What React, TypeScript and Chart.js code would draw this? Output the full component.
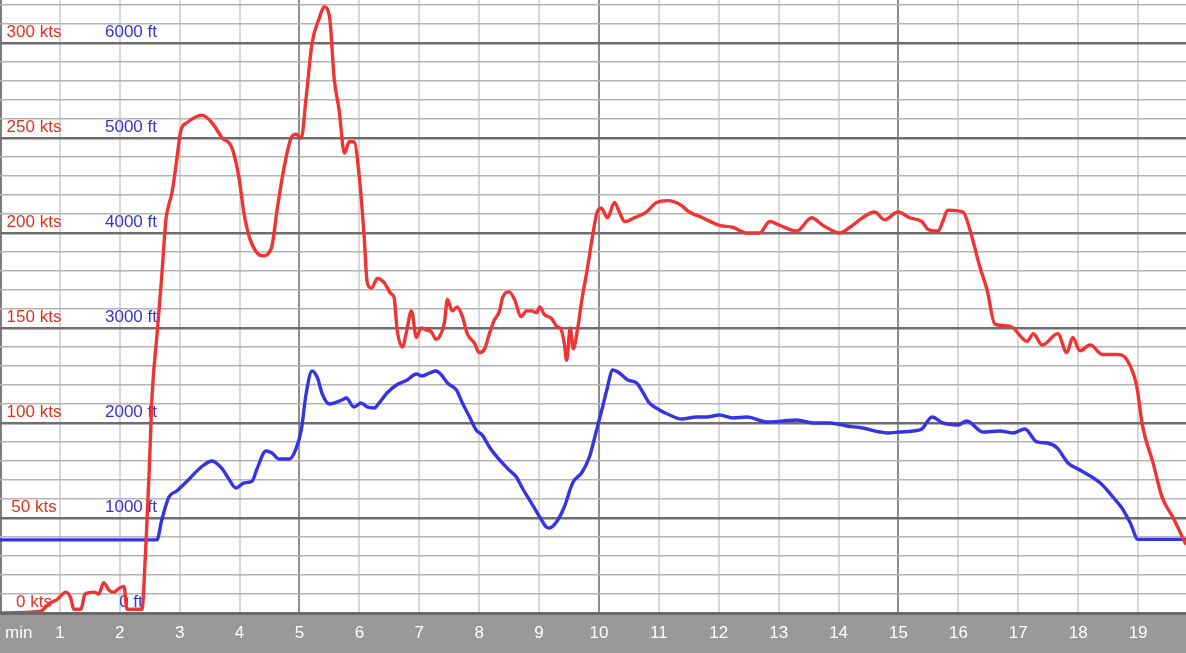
import React, { useEffect, useRef } from "react";
import { Chart, registerables } from "chart.js";

Chart.register(...registerables);

// Time (minutes) and airspeed (kts)
const speedTime = [
  0, 0.68, 0.82, 0.95, 1.1, 1.18, 1.23, 1.35, 1.42, 1.57, 1.65, 1.73, 1.82, 1.9, 1.99, 2.07, 2.12, 2.37,
  2.43, 2.49, 2.54, 2.62, 2.7, 2.77, 2.82, 2.87, 2.94, 3.02, 3.12, 3.37, 3.54, 3.71, 3.87, 3.99, 4.07,
  4.16, 4.28, 4.38, 4.53, 4.63, 4.74, 4.86, 4.94, 5.03, 5.11, 5.21, 5.33, 5.41, 5.5, 5.58, 5.66, 5.75,
  5.83, 5.91, 6.0, 6.08, 6.13, 6.2, 6.3, 6.41, 6.53, 6.58, 6.63, 6.72, 6.78, 6.87, 6.95, 7.03, 7.12,
  7.2, 7.28, 7.33, 7.42, 7.47, 7.55, 7.63, 7.72, 7.8, 7.92, 8.0, 8.09, 8.17, 8.25, 8.34, 8.39, 8.5,
  8.59, 8.7, 8.79, 8.87, 8.96, 9.01, 9.09, 9.21, 9.29, 9.37, 9.42, 9.46, 9.52, 9.57, 9.64, 9.72, 9.81,
  9.89, 9.97, 10.04, 10.14, 10.26, 10.34, 10.43, 10.59, 10.79, 10.96, 11.15, 11.35, 11.51, 11.73,
  12.01, 12.23, 12.47, 12.68, 12.85, 13.02, 13.3, 13.55, 13.74, 14.02, 14.19, 14.4, 14.6, 14.77,
  14.99, 15.19, 15.39, 15.49, 15.66, 15.74, 15.82, 16.08, 16.19, 16.36, 16.48, 16.61, 16.86, 17.15,
  17.25, 17.4, 17.66, 17.81, 17.91, 18.03, 18.2, 18.41, 18.65, 18.82, 18.98, 19.07, 19.25, 19.4,
  19.57, 19.8,
];
const speedKts = [
  0, 1, 5, 7, 11, 8, 2, 2, 10, 11, 10, 16, 12, 11, 13, 14, 2, 2,
  32, 74, 115, 146, 177, 207, 215, 221, 236, 254, 258, 262, 258, 250, 245, 229, 211,
  198, 190, 188, 192, 213, 234, 250, 252, 250, 271, 300, 313, 319, 314, 281, 265, 242,
  248, 248, 229, 198, 174, 171, 176, 174, 168, 166, 149, 140, 147, 159, 145, 150, 149,
  148, 144, 145, 153, 165, 159, 161, 156, 147, 142, 137, 139, 147, 154, 159, 166, 169,
  165, 156, 159, 159, 158, 161, 157, 155, 151, 149, 142, 133, 150, 139, 149, 166, 182,
  198, 211, 213, 208, 216, 211, 206, 208, 211, 216, 217, 215, 211, 208,
  204, 203, 200, 200, 206, 204, 201, 208, 204, 200, 203, 208, 211, 207,
  211, 208, 206, 202, 201, 206, 212, 211, 202, 182, 170, 152, 151, 143,
  147, 141, 147, 137, 145, 138, 141, 136, 136, 133, 119, 99, 79, 61,
  51, 36,
];

// Time (minutes) and altitude (ft)
const altTime = [
  0, 2.62, 2.7, 2.82, 2.95, 3.16, 3.36, 3.54, 3.71, 3.82, 3.94, 4.07, 4.21, 4.29, 4.44, 4.54, 4.66,
  4.83, 4.94, 5.03, 5.11, 5.21, 5.3, 5.38, 5.5, 5.71, 5.78, 5.91, 6.03, 6.13, 6.25, 6.33, 6.46, 6.62,
  6.8, 6.95, 7.05, 7.17, 7.28, 7.37, 7.47, 7.62, 7.72, 7.84, 7.95, 8.05, 8.17, 8.34, 8.5, 8.62, 8.72,
  8.87, 9.01, 9.12, 9.17, 9.29, 9.42, 9.56, 9.72, 9.84, 9.96, 10.06, 10.13, 10.23, 10.34, 10.48,
  10.63, 10.73, 10.84, 11.01, 11.18, 11.38, 11.63, 11.8, 12.01, 12.23, 12.47, 12.8, 13.07, 13.3,
  13.57, 13.85, 14.14, 14.4, 14.69, 14.81, 15.02, 15.24, 15.39, 15.56, 15.74, 15.99, 16.14, 16.41,
  16.69, 16.91, 17.11, 17.31, 17.48, 17.65, 17.83, 18.03, 18.37, 18.58, 18.73, 18.87, 19.0, 19.8,
];
const altFt = [
  770, 770, 979, 1221, 1284, 1411, 1537, 1600, 1516, 1411, 1316, 1368, 1389, 1516, 1705, 1684, 1621,
  1621, 1726, 1926, 2305, 2547, 2474, 2305, 2200, 2242, 2263, 2168, 2211, 2168, 2158, 2211, 2316, 2400,
  2453, 2516, 2495, 2526, 2547, 2505, 2421, 2347, 2211, 2063, 1926, 1874, 1747, 1611, 1505, 1432, 1316,
  1158, 1011, 905, 895, 958, 1116, 1368, 1484, 1642, 1926, 2168, 2347, 2558, 2526, 2453,
  2421, 2326, 2211, 2137, 2084, 2042, 2063, 2063, 2084, 2053, 2063, 2011, 2021, 2032,
  2000, 2000, 1968, 1947, 1905, 1895, 1905, 1916, 1937, 2063, 2000, 1979, 2021, 1905,
  1916, 1895, 1937, 1800, 1789, 1737, 1579, 1505, 1368, 1221, 1105, 947, 775, 775,
];

const speedLabels = [0, 50, 100, 150, 200, 250, 300];
const altLabels = [0, 1000, 2000, 3000, 4000, 5000, 6000];
const minuteLabels = [1, 2, 3, 4, 5, 6, 7, 8, 9, 10, 11, 12, 13, 14, 15, 16, 17, 18, 19];

const FONT = "'Liberation Sans', Arial, sans-serif";

const overlay = {
  id: "overlay",
  beforeDatasetsDraw(chart: any) {
    const ctx = chart.ctx;
    const ys = chart.scales.y;
    const ya = chart.scales.y2;
    ctx.save();
    ctx.font = `17px ${FONT}`;
    ctx.textAlign = "center";
    ctx.textBaseline = "middle";
    ctx.fillStyle = "#e2321f";
    speedLabels.forEach((v) => {
      ctx.fillText(`${v} kts`, 34, ys.getPixelForValue(v) - 10.5);
    });
    ctx.fillStyle = "#3535d0";
    altLabels.forEach((v) => {
      ctx.fillText(`${v} ft`, 131, ya.getPixelForValue(v) - 10.5);
    });
    ctx.restore();
  },
  afterDraw(chart: any) {
    const ctx = chart.ctx;
    const area = chart.chartArea;
    const xs = chart.scales.x;
    ctx.save();
    ctx.fillStyle = "#9a9899";
    ctx.fillRect(0, area.bottom, chart.width, chart.height - area.bottom);
    ctx.fillStyle = "#6a6a6a";
    ctx.fillRect(0, area.bottom - 1, chart.width, 3);
    ctx.font = `17px ${FONT}`;
    ctx.fillStyle = "#ffffff";
    ctx.textBaseline = "middle";
    ctx.textAlign = "left";
    ctx.fillText("min", 5, area.bottom + 20);
    ctx.textAlign = "center";
    minuteLabels.forEach((m) => {
      ctx.fillText(String(m), xs.getPixelForValue(m), area.bottom + 20);
    });
    ctx.restore();
  },
};

export default function App() {
  const ref = useRef<HTMLCanvasElement>(null);
  useEffect(() => {
    document.body.style.margin = "0";
    const canvas = ref.current!;
    const chart = new Chart(canvas, {
      type: "line",
      data: {
        datasets: [
          {
            label: "Speed",
            data: speedTime.map((t, i) => ({ x: t, y: speedKts[i] })),
            borderColor: "#f03434",
            borderWidth: 3.4,
            pointRadius: 0,
            cubicInterpolationMode: "monotone",
            yAxisID: "y",
          },
          {
            label: "Altitude",
            data: altTime.map((t, i) => ({ x: t, y: altFt[i] })),
            borderColor: "#3434e4",
            borderWidth: 3.4,
            pointRadius: 0,
            cubicInterpolationMode: "monotone",
            yAxisID: "y2",
          },
        ],
      },
      options: {
        responsive: false,
        animation: false,
        layout: { padding: { left: 0, right: 0, top: 0, bottom: 40 }, autoPadding: false },
        plugins: { legend: { display: false }, tooltip: { enabled: false } },
        scales: {
          x: {
            type: "linear",
            min: 0,
            max: 19.8,
            ticks: { display: false, stepSize: 1, includeBounds: false },
            border: { display: false },
            grid: {
              drawTicks: false,
              color: (c: any) => {
                const v = c.tick.value;
                if (v === 0) return "#7c7c7c";
                if (v % 5 === 0) return "#8e8e8e";
                return "#d8d8d8";
              },
              lineWidth: (c: any) => (c.tick.value === 0 ? 4 : 2),
            },
          },
          y: {
            type: "linear",
            position: "left",
            min: 0,
            max: 322.6,
            ticks: { display: false, stepSize: 10, includeBounds: false },
            border: { display: false },
            grid: {
              drawTicks: false,
              color: (c: any) => (c.tick.value % 50 === 0 ? "#6e6e6e" : "#b4b4b4"),
              lineWidth: (c: any) => (c.tick.value % 50 === 0 ? 2.5 : 1.5),
            },
          },
          y2: {
            type: "linear",
            display: false,
            min: 0,
            max: 6452,
          },
        },
      },
      plugins: [overlay],
    });
    return () => chart.destroy();
  }, []);
  return (
    <div style={{ position: "fixed", left: 0, top: 0, width: 1186, height: 653, background: "#ffffff" }}>
      <canvas ref={ref} width={1186} height={653} style={{ display: "block" }} />
    </div>
  );
}
